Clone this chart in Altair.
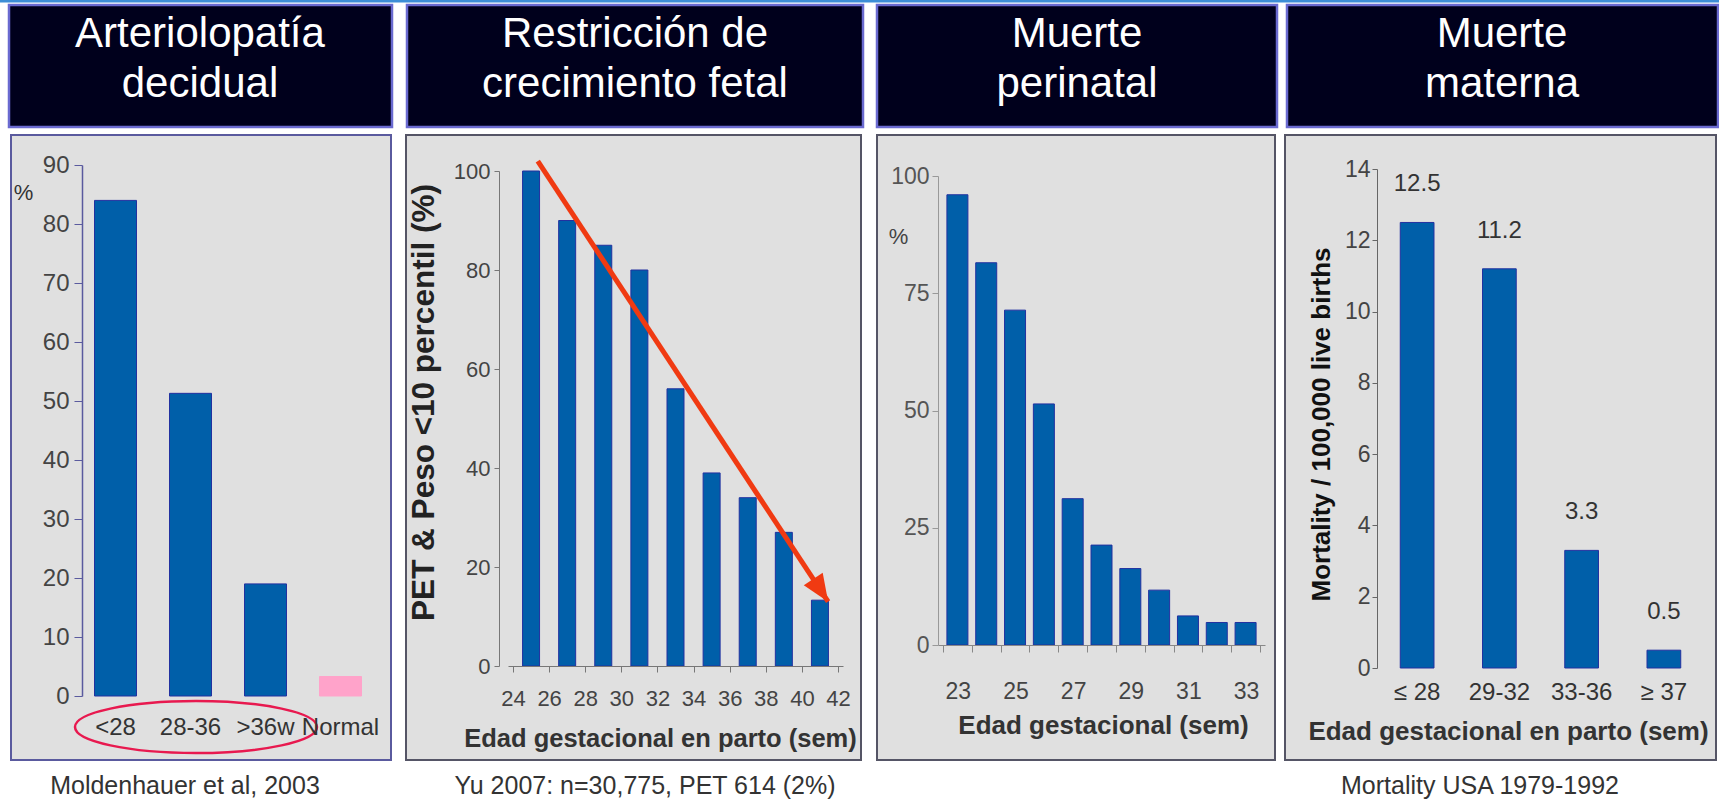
import altair as alt
import pandas as pd

W, H = 1719, 806
FONT = "Liberation Sans, Arial, Helvetica, sans-serif"

# ---------------- data ----------------
headers = [["Arteriolopatía", "decidual"],
           ["Restricción de", "crecimiento fetal"],
           ["Muerte", "perinatal"],
           ["Muerte", "materna"]]
captions = ["Moldenhauer et al, 2003",
            "Yu 2007: n=30,775, PET 614 (2%)",
            "Mortality USA 1979-1992"]

p1_cats = ["<28", "28-36", ">36w", "Normal"]
p1_vals = [84.0, 51.3, 19.0, 3.3]
p1_yticks = [0, 10, 20, 30, 40, 50, 60, 70, 80, 90]

p2_weeks = [25, 27, 29, 31, 33, 35, 37, 39, 41]
p2_vals = [100, 90, 85, 80, 56, 39, 34, 27, 13.3]
p2_xticks = [24, 26, 28, 30, 32, 34, 36, 38, 40, 42]
p2_yticks = [0, 20, 40, 60, 80, 100]
p2_trend_x = [25.6, 41.2]
p2_trend_y = [102.0, 13.0]

p3_weeks = [23, 24, 25, 26, 27, 28, 29, 30, 31, 32, 33]
p3_vals = [96.0, 81.5, 71.4, 51.4, 31.2, 21.3, 16.3, 11.7, 6.2, 4.8, 4.8]
p3_xticks = [22.5, 23.5, 24.5, 25.5, 26.5, 27.5, 28.5, 29.5, 30.5, 31.5, 32.5, 33.5]
p3_yticks = [0, 25, 50, 75, 100]

p4_cats = ["≤ 28", "29-32", "33-36", "≥ 37"]
p4_vals = [12.5, 11.2, 3.3, 0.5]
p4_yticks = [0, 2, 4, 6, 8, 10, 12, 14]

# ---------------- styles ----------------
BLUE = "#005FA9"
BLUE_EDGE = "#2231A0"
PINK = "#FFA3CA"
RED = "#F03A12"
NAVY = "#00001C"
GRAY_BG = "#E0E0E0"

AX = dict(zindex=1, grid=False, labelFont=FONT, titleFont=FONT)


def box(x1, x2, y1, y2, fill, stroke=None, sw=0):
    kw = dict(fill=fill)
    if stroke is not None:
        kw.update(stroke=stroke, strokeWidth=sw)
    return alt.Chart().mark_rect(**kw).encode(
        x=alt.value(x1), x2=alt.value(x2), y=alt.value(y1), y2=alt.value(y2))


def label(x, y, text, size, color, weight="normal", baseline="middle", line_height=None):
    kw = dict(align="center", baseline=baseline, fontSize=size, fill=color,
              fontWeight=weight, font=FONT)
    if line_height is not None:
        kw["lineHeight"] = line_height
    return alt.Chart().mark_text(**kw).encode(
        x=alt.value(x), y=alt.value(y), text=alt.value(text))


layers = [box(0, W, 0, 2.5, "#3D8ED6")]

# headers
hx = [(9, 392), (407, 863), (877, 1277), (1287, 1718)]
hc = [200, 635, 1077, 1502]
for (a, b) in hx:
    layers.append(box(a, b, 5, 127, NAVY, "#6A6AD0", 2.5))
for c, t in zip(hc, headers):
    layers.append(label(c, 47, t, 42, "white", baseline="alphabetic", line_height=50))

# panel backgrounds
px = [(11, 391, "#5A5A9E"), (406, 861, "#555566"), (877, 1275, "#555566"), (1285, 1716, "#555566")]
for (a, b, s) in px:
    layers.append(box(a, b, 135, 760, GRAY_BG, s, 2))

# ---------------- panel 1 ----------------
df1 = pd.DataFrame({"cat": p1_cats, "val": p1_vals})
x1 = alt.X("cat:N", sort=p1_cats,
           scale=alt.Scale(domain=p1_cats, range=[78, 378], paddingInner=0.44, paddingOuter=0.22),
           axis=alt.Axis(orient="bottom", offset=696 - H, domain=False, ticks=False, tickSize=0,
                         labelPadding=31, labelBaseline="middle", labelAngle=0, labelFontSize=24,
                         labelColor="#333333", labelOverlap=False, title=None, **AX))
y1 = alt.Y("val:Q",
           scale=alt.Scale(domain=[0, 90], range=[696, 165], nice=False),
           axis=alt.Axis(orient="left", offset=-82, values=p1_yticks, tickSize=8, labelPadding=5,
                         domainColor="#5A5A9E", domainWidth=1.5, tickColor="#5A5A9E",
                         labelFontSize=24, labelColor="#444444",
                         title="%", titleAngle=0, titleX=-59, titleY=192, titleFontSize=22,
                         titleFontWeight="normal", titleColor="#333333", titleAlign="center",
                         titleBaseline="middle", **AX))
bars1 = alt.Chart(df1).mark_bar(strokeWidth=1).encode(
    x=x1, y=y1,
    fill=alt.condition(alt.datum.cat == "Normal", alt.value(PINK), alt.value(BLUE)),
    stroke=alt.condition(alt.datum.cat == "Normal", alt.value(PINK), alt.value(BLUE_EDGE)))
layers.append(bars1)

# ---------------- panel 2 ----------------
df2 = pd.DataFrame({"wk": p2_weeks, "val": p2_vals})


def sx2():
    return alt.Scale(domain=[24, 42], range=[508, 843], nice=False, zero=False)


def sy2():
    return alt.Scale(domain=[0, 100], range=[666, 171], nice=False)


x2 = alt.X("wk:Q", scale=sx2(),
           axis=alt.Axis(orient="bottom", offset=666 - H, values=p2_xticks, format="d",
                         tickSize=6, labelPadding=26, labelBaseline="middle", labelFlush=False,
                         labelOverlap=False, labelFontSize=22, labelColor="#444444",
                         domainColor="#777777", tickColor="#777777",
                         title="Edad gestacional en parto (sem)", titleX=660, titleY=72,
                         titleFontSize=25.5, titleFontWeight="bold", titleColor="#333333",
                         titleAlign="center", titleBaseline="middle", **AX))
y2 = alt.Y("val:Q", scale=sy2(),
           axis=alt.Axis(orient="left", offset=-499, values=p2_yticks, tickSize=5, labelPadding=4,
                         domainColor="#777777", tickColor="#777777", labelFontSize=22,
                         labelColor="#444444", title="PET & Peso <10 percentil (%)",
                         titleAngle=270, titleX=-75, titleY=402, titleFontSize=31.5,
                         titleFontWeight="bold", titleColor="#222222", titleAlign="center",
                         titleBaseline="middle", **AX))
bars2 = alt.Chart(df2).mark_bar(size=17, fill=BLUE, stroke=BLUE_EDGE, strokeWidth=1).encode(x=x2, y=y2)
layers.append(bars2)

df_tr = pd.DataFrame({"tx": p2_trend_x, "ty": p2_trend_y})
trend = alt.Chart(df_tr).mark_line(color=RED, strokeWidth=5).encode(
    x=alt.X("tx:Q", scale=sx2(), axis=None), y=alt.Y("ty:Q", scale=sy2(), axis=None))
layers.append(trend)
df_head = pd.DataFrame({"tx": [p2_trend_x[-1]], "ty": [p2_trend_y[-1]]})
ARROW = "M 0 0 L -1 -0.42 L -1 0.42 Z"
head = alt.Chart(df_head).mark_point(shape=ARROW, size=4 * 27 ** 2, filled=True, color=RED,
                                     opacity=1, angle=56.6).encode(
    x=alt.X("tx:Q", scale=sx2(), axis=None), y=alt.Y("ty:Q", scale=sy2(), axis=None))
layers.append(head)

# ---------------- panel 3 ----------------
df3 = pd.DataFrame({"wk": p3_weeks, "val": p3_vals})
sx3 = alt.Scale(domain=[22.5, 33.5], range=[938, 1265], nice=False, zero=False)
sy3 = alt.Scale(domain=[0, 100], range=[645, 176], nice=False)
x3 = alt.X("wk:Q", scale=sx3,
           axis=alt.Axis(orient="bottom", offset=645 - H, values=p3_xticks, tickSize=7,
                         labelOffset=14.86,
                         labelExpr="(datum.value + 0.5) % 2 == 1 ? format(datum.value + 0.5, 'd') : ''",
                         labelPadding=39, labelBaseline="middle", labelFlush=False, labelOverlap=False,
                         labelFontSize=23, labelColor="#444444", domainColor="#888888",
                         tickColor="#888888", title="Edad gestacional (sem)", titleX=1103,
                         titleY=80, titleFontSize=26, titleFontWeight="bold", titleColor="#333333",
                         titleAlign="center", titleBaseline="middle", **AX))
y3 = alt.Y("val:Q", scale=sy3,
           axis=alt.Axis(orient="left", offset=-938, values=p3_yticks, tickSize=6, labelPadding=3,
                         domainColor="#999999", tickColor="#999999", labelFontSize=23,
                         labelColor="#555555", title="%", titleAngle=0, titleX=-40, titleY=236,
                         titleFontSize=22, titleFontWeight="normal", titleColor="#444444",
                         titleAlign="center", titleBaseline="middle", **AX))
bars3 = alt.Chart(df3).mark_bar(size=21, fill=BLUE, stroke=BLUE_EDGE, strokeWidth=1).encode(x=x3, y=y3)
layers.append(bars3)

# ---------------- panel 4 ----------------
df4 = pd.DataFrame({"cat": p4_cats, "val": p4_vals})


def sx4():
    return alt.Scale(domain=p4_cats, range=[1376, 1705], paddingInner=0.59, paddingOuter=0.295)


def sy4():
    return alt.Scale(domain=[0, 14], range=[668, 169], nice=False)


x4 = alt.X("cat:N", sort=p4_cats, scale=sx4(),
           axis=alt.Axis(orient="bottom", offset=668 - H, domain=False, ticks=False, tickSize=0,
                         labelPadding=24, labelBaseline="middle", labelAngle=0, labelFontSize=24,
                         labelColor="#333333", labelOverlap=False,
                         title="Edad gestacional en parto (sem)", titleX=1508, titleY=63,
                         titleFontSize=26, titleFontWeight="bold", titleColor="#333333",
                         titleAlign="center", titleBaseline="middle", **AX))
y4 = alt.Y("val:Q", scale=sy4(),
           axis=alt.Axis(orient="left", offset=-1377, values=p4_yticks, tickSize=5, labelPadding=2,
                         domainColor="#666666", tickColor="#666666", labelFontSize=23,
                         labelColor="#444444", title="Mortality / 100,000 live births",
                         titleAngle=270, titleX=-56, titleY=424, titleFontSize=26,
                         titleFontWeight="bold", titleColor="#111111", titleAlign="center",
                         titleBaseline="middle", **AX))
bars4 = alt.Chart(df4).mark_bar(fill=BLUE, stroke=BLUE_EDGE, strokeWidth=1).encode(x=x4, y=y4)
layers.append(bars4)
vals4 = alt.Chart(df4).mark_text(dy=-38, fontSize=24, fill="#333333", baseline="middle",
                                 font=FONT).encode(
    x=alt.X("cat:N", sort=p4_cats, scale=sx4(), axis=None),
    y=alt.Y("val:Q", scale=sy4(), axis=None),
    text=alt.Text("val:Q", format=".1f"))
layers.append(vals4)

# captions
for cx, t in zip([185, 645, 1480], captions):
    layers.append(label(cx, 786, t, 25, "#333333"))

# red ellipse around the preterm categories
k = 0.5523
a = 0.215
ELLIPSE = (f"M 1 0 C 1 {k*a:.4f} {k:.4f} {a} 0 {a} "
           f"C {-k:.4f} {a} -1 {k*a:.4f} -1 0 "
           f"C -1 {-k*a:.4f} {-k:.4f} {-a} 0 {-a} "
           f"C {k:.4f} {-a} 1 {-k*a:.4f} 1 0 Z")
ellipse = alt.Chart().mark_point(shape=ELLIPSE, size=4 * 121 ** 2, filled=False, stroke="#E8194F",
                                 strokeWidth=2.5, opacity=1).encode(x=alt.value(196), y=alt.value(727))
layers.append(ellipse)

chart = alt.layer(*layers).resolve_scale(x="independent", y="independent").resolve_axis(
    x="independent", y="independent").properties(
    width=W, height=H, autosize=alt.AutoSizeParams(type="none"), padding=0, background="white"
).configure_view(strokeWidth=0)

chart.save("out.html", embed_options={"renderer": "svg", "actions": False})
